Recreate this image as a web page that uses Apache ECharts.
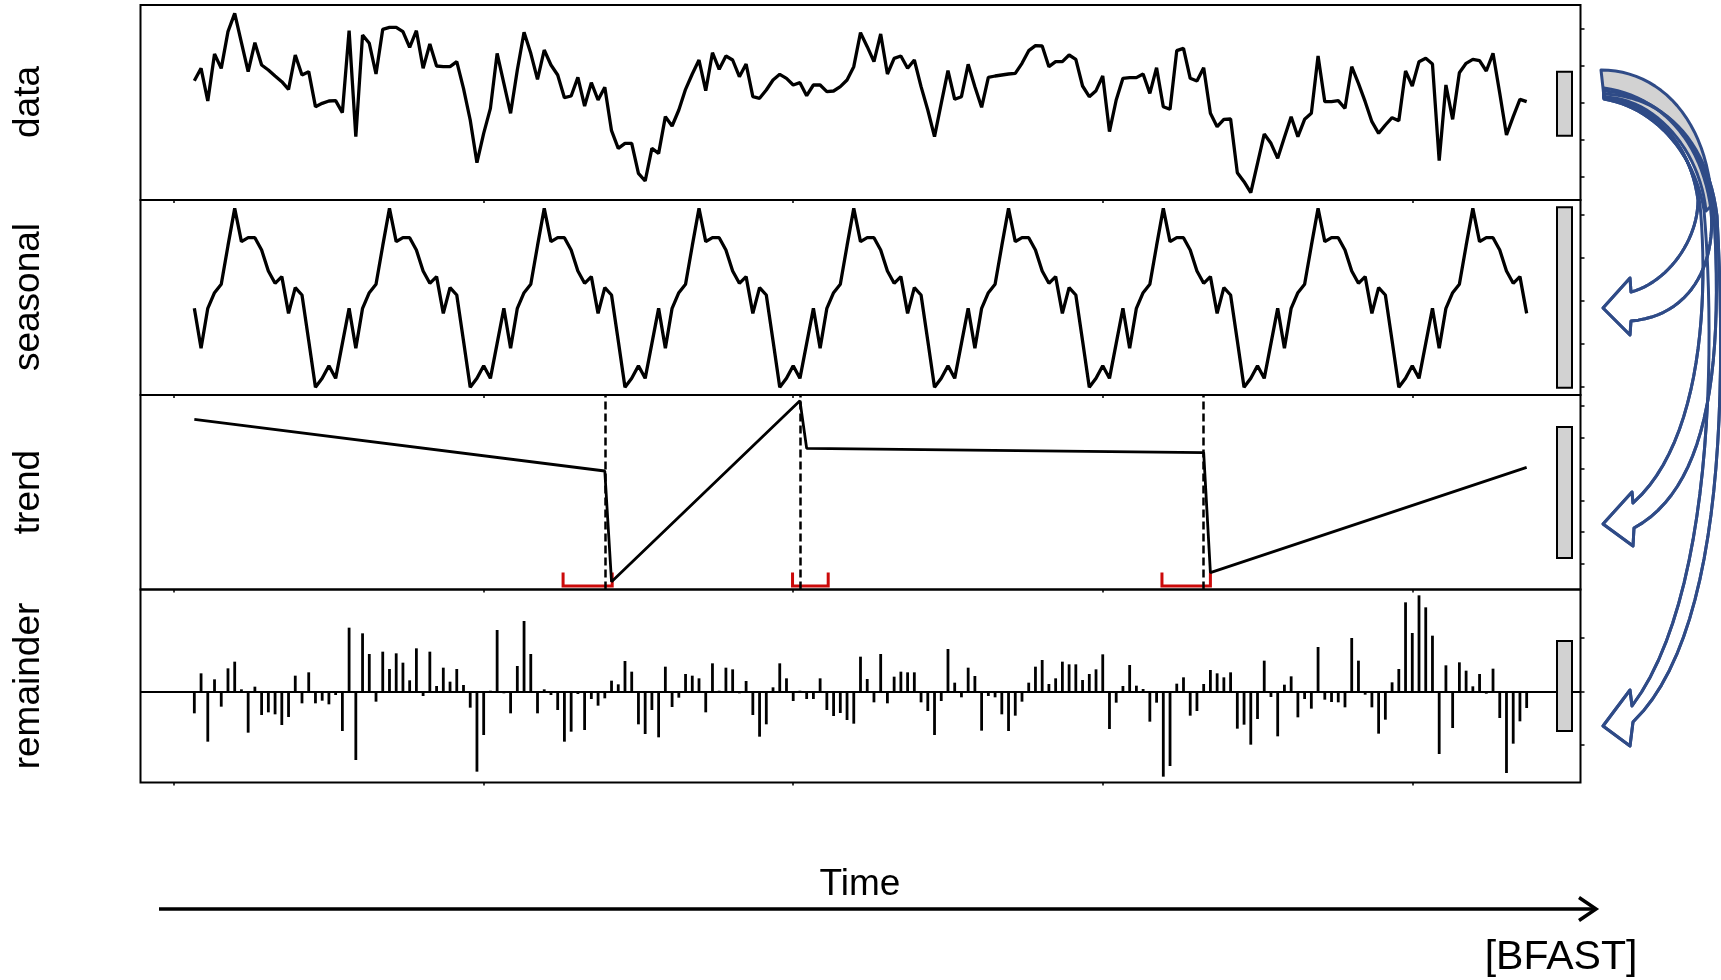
<!DOCTYPE html>
<html><head><meta charset="utf-8">
<script src="https://cdn.jsdelivr.net/npm/echarts@6/dist/echarts.min.js"></script>
<style>html,body{margin:0;padding:0;background:#fff}#c{width:1721px;height:980px}</style>
</head><body><div id="c"></div>
<script>
const panelNames = ['data', 'seasonal', 'trend', 'remainder'];

const dataValues = [
358,395,297,438,395,505,560,472,385,472,
405,390,372,355,332,435,375,385,280,290,
297,298,262,508,190,495,470,378,512,518,
518,505,458,508,395,468,402,400,400,415,
335,240,112,200,275,440,350,260,390,503,
440,362,450,405,375,307,312,368,282,352,
300,338,208,155,170,170,80,57,155,140,
250,222,270,332,378,420,328,442,392,432,
420,370,408,310,305,330,360,377,365,345,
352,313,345,345,325,327,340,360,400,502,
460,415,498,378,425,432,395,420,340,270,
190,290,388,302,310,407,340,278,368,372,
375,378,380,410,448,463,462,400,415,415,
435,422,342,310,328,372,205,300,365,367,
367,378,320,397,280,272,448,455,365,357,
397,260,220,242,243,82,55,22,110,198,
170,125,188,250,190,242,260,432,295,295,
298,275,400,350,295,235,200,225,247,238,
387,342,415,425,408,118,345,242,382,410,
422,418,387,440,320,195,250,302,295
];

const seasonalValues = [
260,140,260,307,332,448,560,460,472,472,435,372,335,355,245,322,300,163,23,50,88,50,155,
260,140,260,307,332,448,560,460,472,472,435,372,335,355,245,322,300,163,23,50,88,50,155,
260,140,260,307,332,448,560,460,472,472,435,372,335,355,245,322,300,163,23,50,88,50,155,
260,140,260,307,332,448,560,460,472,472,435,372,335,355,245,322,300,163,23,50,88,50,155,
260,140,260,307,332,448,560,460,472,472,435,372,335,355,245,322,300,163,23,50,88,50,155,
260,140,260,307,332,448,560,460,472,472,435,372,335,355,245,322,300,163,23,50,88,50,155,
260,140,260,307,332,448,560,460,472,472,435,372,335,355,245,322,300,163,23,50,88,50,155,
260,140,260,307,332,448,560,460,472,472,435,372,335,355,245,322,300,163,23,50,88,50,155,
260,140,260,307,332,448,560,460,472,472,435,372,335,355,245
];

// piecewise-linear trend: [observation, value] at segment ends
const trendVertices = [[0,512],[61,357],[62,25],[90,568],[91,425],[150,412],[151,52],[198,368]];
const breakpoints = [61, 90, 150];
const breakCI = [[54.8, 62.1], [88.9, 94.2], [143.8, 151.0]];

const remainderValues = [
-66,54,-151,36,-46,69,89,6,-124,14,
-71,-63,-69,-101,-77,47,-36,57,-36,-28,
-39,-11,-119,191,-206,174,112,-31,119,67,
114,86,33,129,-14,119,16,71,29,67,
19,-49,-241,-131,2,184,-6,-66,76,211,
112,-66,6,-11,-56,-151,-121,-8,-116,-23,
-43,-21,32,21,91,59,-99,-128,-56,-138,
74,-47,-19,52,47,39,-63,84,2,71,
66,-6,31,-71,-136,-99,12,84,39,-29,
2,-23,-23,39,-56,-74,-65,-86,-97,104,
37,-33,112,-36,44,59,57,57,-33,-59,
-131,-29,127,26,-18,71,46,-118,-14,-18,
-69,-119,-73,-31,26,74,94,22,39,89,
81,81,34,52,66,111,-113,-34,16,79,
17,7,-91,-34,-256,-224,23,42,-73,-59,
22,64,54,42,57,-112,-100,-160,-83,92,
-17,-135,20,45,-78,-23,-52,133,-25,-32,
-33,-48,160,92,-10,-48,-127,-85,27,67,
267,175,288,252,167,-188,78,-110,87,62,
15,52,-7,68,-80,-245,-157,-90,-50
];

// common-range bars (low, high) per panel
const rangeBars = [[193,385],[22,563],[96,489],[-119,151]];
// axis ranges and tick positions
const xRange = [-8, 206];
const xTicks = [-3, 43, 89, 135, 181];
const yRanges = [[0,585],[0,585],[1.5,585],[-273.5,305.5]];
const yTicks = [[70,181,293,404,515],[25,154,283,411,540],[79,174,268,363,457,552],[-160,0,160]];

// ---- layout ----
const gridBoxes = [{top:5,height:195},{top:200,height:195},{top:395,height:194.5},{top:589.5,height:193}];
const labelCenters = [102, 297, 492, 686];
const FONT = '"Liberation Sans", Arial, Helvetica, sans-serif';
const BLUE = '#2F4B87';

// decorative curved arrows (pixel geometry): start point + segments (line [x,y] or cubic [c1x,c1y,c2x,c2y,x,y])
function shapePoints(start, segs) {
  const pts = [start.slice()];
  let cur = start;
  segs.forEach(s => {
    if (s.length === 2) { pts.push(s.slice()); cur = s; }
    else {
      for (let t = 1; t <= 24; t++) {
        const u = t / 24, a = (1-u)**3, b = 3*(1-u)**2*u, c = 3*(1-u)*u*u, d = u**3;
        pts.push([a*cur[0]+b*s[0]+c*s[2]+d*s[4], a*cur[1]+b*s[1]+c*s[3]+d*s[5]]);
      }
      cur = [s[4], s[5]];
    }
  });
  return pts;
}
const bandPts = shapePoints([1601,70], [[1660,70,1708,120,1712,205],[1706,211],[1700,150,1655,98,1604,97]]);
const arrowPts = [
  shapePoints([1604,99], [[1652,107,1694,150,1704,210],[1716,350,1712,600,1632,706],[1630,690],[1603,726],[1630,746],[1633,722],[1718,640,1728,420,1717,216],[1707,136,1660,96,1604,94]]),
  shapePoints([1604,98], [[1652,105,1692,145,1700,205],[1708,290,1704,440,1633,503],[1632,492],[1603,524],[1633,546],[1634,528],[1704,490,1724,380,1714,214],[1705,138,1660,95,1604,91]]),
  shapePoints([1604,97], [[1650,103,1690,140,1698,200],[1698,240,1668,282,1631,292],[1630,278],[1603,308],[1630,335],[1631,321],[1690,316,1716,265,1711,210],[1702,140,1660,96,1604,88]])
];

const graphics = [];
panelNames.forEach((n, k) => graphics.push({
  type: 'text', x: 29, y: labelCenters[k], rotation: Math.PI / 2, silent: true,
  style: { text: n, font: '37px ' + FONT, fill: '#000', align: 'center', verticalAlign: 'middle', textAlign: 'center', textVerticalAlign: 'middle' }
}));
graphics.push({ type: 'text', x: 860, y: 885, silent: true,
  style: { text: 'Time', font: '37px ' + FONT, fill: '#000', align: 'center', verticalAlign: 'middle', textAlign: 'center', textVerticalAlign: 'middle' } });
graphics.push({ type: 'text', x: 1561, y: 958, silent: true,
  style: { text: '[BFAST]', font: '41px ' + FONT, fill: '#000', align: 'center', verticalAlign: 'middle', textAlign: 'center', textVerticalAlign: 'middle' } });
graphics.push({ type: 'line', silent: true, shape: { x1: 159, y1: 909, x2: 1594, y2: 909 }, style: { stroke: '#000', lineWidth: 3.5 } });
graphics.push({ type: 'polyline', silent: true, shape: { points: [[1579,897.5],[1596,909],[1579,920.5]] }, style: { stroke: '#000', lineWidth: 3.5, fill: null } });
arrowPts.forEach(p => graphics.push({ type: 'polygon', silent: true, shape: { points: p }, style: { fill: '#fff', stroke: BLUE, lineWidth: 3, lineJoin: 'round' } }));
graphics.push({ type: 'polygon', silent: true, shape: { points: bandPts }, style: { fill: '#D2D2D2', stroke: BLUE, lineWidth: 3, lineJoin: 'round' } });
arrowPts.forEach(p => graphics.push({ type: 'polygon', silent: true, shape: { points: p }, style: { fill: null, stroke: BLUE, lineWidth: 3, lineJoin: 'round' } }));

const grids = gridBoxes.map(g => ({ left: 140.5, width: 1440, top: g.top, height: g.height, show: true, borderColor: '#000', borderWidth: 2, backgroundColor: 'transparent' }));
const xAxes = gridBoxes.map((g, k) => ({
  gridIndex: k, type: 'value', min: xRange[0], max: xRange[1], position: 'bottom',
  axisLine: { show: false, onZero: false }, axisLabel: { show: false }, splitLine: { show: false },
  axisTick: { show: true, customValues: xTicks, length: 3, inside: false, lineStyle: { color: '#000', width: 1.5 } }
}));
const yAxes = gridBoxes.map((g, k) => ({
  gridIndex: k, type: 'value', position: 'right', min: yRanges[k][0], max: yRanges[k][1],
  axisLine: { show: false, onZero: false }, axisLabel: { show: false }, splitLine: { show: false },
  axisTick: { show: true, customValues: yTicks[k], length: 4, inside: false, lineStyle: { color: '#000', width: 1.5 } }
}));

const series = [
  { type: 'line', xAxisIndex: 0, yAxisIndex: 0, data: dataValues.map((v, i) => [i, v]), symbol: 'none', silent: true,
    lineStyle: { color: '#000', width: 3.3 } },
  { type: 'line', xAxisIndex: 1, yAxisIndex: 1, data: seasonalValues.map((v, i) => [i, v]), symbol: 'none', silent: true,
    lineStyle: { color: '#000', width: 3.3 } },
  { type: 'line', xAxisIndex: 2, yAxisIndex: 2, data: trendVertices, symbol: 'none', silent: true,
    lineStyle: { color: '#000', width: 2.8 },
    markLine: { symbol: 'none', silent: true, label: { show: false }, animation: false,
      lineStyle: { type: [8, 4], color: '#000', width: 2.5 },
      data: breakpoints.map(b => ({ xAxis: b })) } },
  { type: 'custom', xAxisIndex: 2, yAxisIndex: 2, data: breakCI, silent: true,
    renderItem: (params, api) => {
      const cs = params.coordSys;
      const x1 = api.coord([api.value(0), 100])[0], x2 = api.coord([api.value(1), 100])[0];
      const yb = cs.y + cs.height - 3.5, yt = yb - 13.5;
      return { type: 'polyline', shape: { points: [[x1, yt], [x1, yb], [x2, yb], [x2, yt]] },
        style: { stroke: '#CC0A0A', lineWidth: 3, fill: null } };
    } },
  { type: 'bar', xAxisIndex: 3, yAxisIndex: 3, data: remainderValues.map((v, i) => [i, v]), barWidth: 2.8, silent: true,
    itemStyle: { color: '#000' },
    markLine: { symbol: 'none', silent: true, label: { show: false }, animation: false,
      lineStyle: { type: 'solid', color: '#000', width: 2.2 }, data: [{ yAxis: 0 }] } }
];
rangeBars.forEach((rb, k) => series.push({
  type: 'custom', xAxisIndex: k, yAxisIndex: k, data: [rb], silent: true, z: 5,
  renderItem: (params, api) => {
    const cs = params.coordSys;
    const lo = api.coord([0, api.value(0)])[1], hi = api.coord([0, api.value(1)])[1];
    return { type: 'rect', shape: { x: cs.x + cs.width - 23.5, y: hi, width: 15, height: lo - hi },
      style: { fill: '#D2D2D2', stroke: '#000', lineWidth: 2 } };
  }
}));

const chart = echarts.init(document.getElementById('c'), null, { renderer: 'canvas' });
chart.setOption({
  animation: false,
  backgroundColor: '#fff',
  grid: grids, xAxis: xAxes, yAxis: yAxes, series: series, graphic: graphics
});
</script>
</body></html>
